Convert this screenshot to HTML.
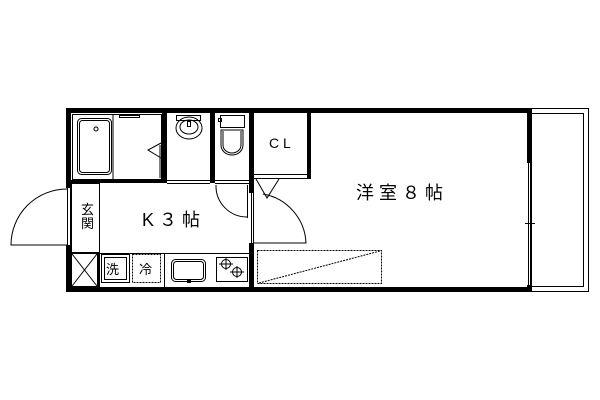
<html><body style="margin:0;background:#fff">
<svg width="600" height="400" xmlns="http://www.w3.org/2000/svg" font-family="Liberation Sans, Noto Sans CJK JP, sans-serif">
<g fill="none" stroke="#000" stroke-width="1">
<rect x="531.5" y="108.5" width="57" height="183"/>
<line x1="583.5" y1="113" x2="583.5" y2="287"/>
<line x1="531" y1="286.5" x2="584" y2="286.5"/>
<line x1="531" y1="113.5" x2="584" y2="113.5"/>
</g>
<g fill="#000">
<rect x="66" y="108" width="466" height="5"/>
<rect x="66" y="287" width="466" height="5"/>
<rect x="66" y="108" width="5" height="80"/>
<rect x="66" y="245" width="5" height="47"/>
<rect x="527" y="108" width="5" height="55"/>
<rect x="527" y="285" width="5" height="7"/>
<rect x="162" y="113" width="5" height="70"/>
<rect x="210" y="113" width="5" height="70"/>
<rect x="249" y="113" width="5" height="80"/>
<rect x="249" y="243" width="5" height="46"/>
<rect x="307" y="113" width="4" height="66"/>
<rect x="71" y="180" width="96" height="3"/>
<rect x="98" y="252" width="2" height="36"/>
</g>
<g fill="none" stroke="#000" stroke-width="1">
<line x1="528.5" y1="163" x2="528.5" y2="285"/><line x1="530.5" y1="163" x2="530.5" y2="285"/>
<line x1="525" y1="223.5" x2="535" y2="223.5"/>
<line x1="67.5" y1="188" x2="67.5" y2="245"/><line x1="70.5" y1="188" x2="70.5" y2="245"/>
<path d="M67 245 H11 A56 56 0 0 1 67 189"/>
<rect x="71.5" y="183.5" width="28" height="69"/>
<rect x="71.5" y="253.5" width="26" height="33"/>
<line x1="72" y1="254" x2="97" y2="286"/><line x1="97" y1="254" x2="72" y2="286"/>
<rect x="72.5" y="114.5" width="89" height="65"/>
<rect x="77.5" y="118.5" width="34" height="56" rx="4"/>
<rect x="79.5" y="120.5" width="30" height="52" rx="3"/>
<circle cx="96" cy="129" r="2"/>
<line x1="113" y1="114" x2="113" y2="180"/>
<rect x="119.5" y="115.5" width="20" height="2"/>
<path d="M161 143 L148 150 L161 158"/>
<line x1="160" y1="145" x2="160" y2="178"/>
<line x1="120" y1="181.5" x2="162" y2="181.5" stroke-dasharray="1,1"/>
<line x1="167" y1="180.5" x2="210" y2="180.5"/><line x1="167" y1="183.5" x2="210" y2="183.5"/>
<rect x="176.5" y="115.5" width="24" height="5"/>
<ellipse cx="189" cy="128" rx="13" ry="11"/>
<ellipse cx="189" cy="127" rx="9" ry="7"/>
<rect x="187.5" y="121.5" width="3" height="5"/>
<line x1="215" y1="180.5" x2="249" y2="180.5"/><line x1="215" y1="183.5" x2="249" y2="183.5"/>
<rect x="220.5" y="115.5" width="24" height="12"/>
<rect x="218.5" y="118.5" width="3" height="3"/>
<path d="M221 130 V145 A11 10 0 0 0 243 145 V130 Z"/>
<path d="M223 131 V145 A9 8 0 0 0 241 145 V131"/>
<path d="M216 185 A31 31 0 0 0 247 217"/><line x1="247.5" y1="185" x2="247.5" y2="218"/>
<line x1="254" y1="174.5" x2="307" y2="174.5"/><line x1="254" y1="178.5" x2="307" y2="178.5"/>
<path d="M256 179 L267 198 L279 179"/>
<line x1="251.5" y1="193" x2="251.5" y2="243"/><line x1="253.5" y1="193" x2="253.5" y2="243"/>
<path d="M254 243 H306 A52 52 0 0 0 263 194"/>
<line x1="100" y1="253.5" x2="250" y2="253.5"/>
<rect x="101.5" y="254.5" width="28" height="28"/>
<rect x="104.5" y="257.5" width="22" height="22"/>
<rect x="132.5" y="254.5" width="28" height="28" stroke-dasharray="2,1"/>
<line x1="164.5" y1="254" x2="164.5" y2="287"/>
<rect x="171.5" y="259.5" width="34" height="22" rx="4"/>
<rect x="173.5" y="261.5" width="30" height="18" rx="3"/>
<rect x="187.5" y="280.5" width="3" height="2"/>
<rect x="216.5" y="257.5" width="31" height="24"/>
<circle cx="226" cy="264" r="4.5"/><circle cx="237" cy="272" r="4.5"/>
<line x1="219" y1="264" x2="233" y2="264"/><line x1="226" y1="258" x2="226" y2="270"/>
<line x1="230" y1="272" x2="244" y2="272"/><line x1="237" y1="266" x2="237" y2="278"/>
<rect x="257.5" y="250.5" width="124" height="33" stroke-dasharray="2,1"/>
<line x1="259" y1="283" x2="380" y2="251" stroke-dasharray="2,1"/>
</g>
<g fill="#000">
<text x="269" y="148" font-size="14">C L</text>
<text x="142" y="226" font-size="18">K ３ 帖</text>
<text x="356" y="199" font-size="18">洋 室 ８ 帖</text>
<text x="81" y="214" font-size="13">玄</text>
<text x="81" y="228" font-size="13">関</text>
<text x="106" y="274" font-size="13">洗</text>
<text x="139" y="274" font-size="13">冷</text>
</g>
</svg>
</body></html>
